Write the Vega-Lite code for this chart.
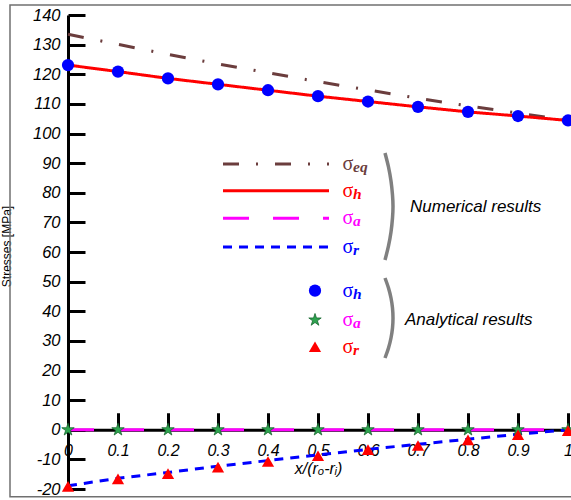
{
  "$schema": "https://vega.github.io/schema/vega-lite/v6.json",
  "width": 500,
  "height": 474,
  "autosize": {"type": "none"},
  "padding": {"left": 68, "top": 15, "right": 3, "bottom": 11},
  "background": "white",
  "config": {"view": {"stroke": null}},
  "datasets": {
    "frame": [{"x": -0.116, "x2": 1.02, "y": 143.4, "y2": -22.6}],
    "num": [
      {"s": "eq", "x": 0, "y": 133.5}, {"s": "eq", "x": 0.1, "y": 130.1}, {"s": "eq", "x": 0.2, "y": 126.7}, {"s": "eq", "x": 0.3, "y": 123.5}, {"s": "eq", "x": 0.4, "y": 120.5}, {"s": "eq", "x": 0.5, "y": 117.5}, {"s": "eq", "x": 0.6, "y": 114.7}, {"s": "eq", "x": 0.7, "y": 111.9}, {"s": "eq", "x": 0.8, "y": 109.3}, {"s": "eq", "x": 0.9, "y": 106.9}, {"s": "eq", "x": 1, "y": 104.5},
      {"s": "h", "x": 0, "y": 123.1}, {"s": "h", "x": 0.1, "y": 120.9}, {"s": "h", "x": 0.2, "y": 118.6}, {"s": "h", "x": 0.3, "y": 116.6}, {"s": "h", "x": 0.4, "y": 114.6}, {"s": "h", "x": 0.5, "y": 112.6}, {"s": "h", "x": 0.6, "y": 110.8}, {"s": "h", "x": 0.7, "y": 109.0}, {"s": "h", "x": 0.8, "y": 107.3}, {"s": "h", "x": 0.9, "y": 105.9}, {"s": "h", "x": 1, "y": 104.4},
      {"s": "a", "x": 0, "y": 0}, {"s": "a", "x": 0.1, "y": 0}, {"s": "a", "x": 0.2, "y": 0}, {"s": "a", "x": 0.3, "y": 0}, {"s": "a", "x": 0.4, "y": 0}, {"s": "a", "x": 0.5, "y": 0}, {"s": "a", "x": 0.6, "y": 0}, {"s": "a", "x": 0.7, "y": 0}, {"s": "a", "x": 0.8, "y": 0}, {"s": "a", "x": 0.9, "y": 0}, {"s": "a", "x": 1, "y": 0},
      {"s": "r", "x": 0, "y": -18.9}, {"s": "r", "x": 0.1, "y": -16.4}, {"s": "r", "x": 0.2, "y": -14.4}, {"s": "r", "x": 0.3, "y": -12.3}, {"s": "r", "x": 0.4, "y": -10.4}, {"s": "r", "x": 0.5, "y": -8.5}, {"s": "r", "x": 0.6, "y": -6.6}, {"s": "r", "x": 0.7, "y": -4.9}, {"s": "r", "x": 0.8, "y": -3.2}, {"s": "r", "x": 0.9, "y": -1.5}, {"s": "r", "x": 1, "y": 0}
    ],
    "leg": [
      {"s": "eq", "x": 0.31, "y": 89.7}, {"s": "eq", "x": 0.522, "y": 89.7},
      {"s": "h", "x": 0.31, "y": 80.69}, {"s": "h", "x": 0.522, "y": 80.69},
      {"s": "a", "x": 0.31, "y": 71.38}, {"s": "a", "x": 0.522, "y": 71.38},
      {"s": "r", "x": 0.31, "y": 61.69}, {"s": "r", "x": 0.522, "y": 61.69}
    ],
    "circ": [
      {"x": 0, "y": 123.1}, {"x": 0.1, "y": 120.9}, {"x": 0.2, "y": 118.6}, {"x": 0.3, "y": 116.6}, {"x": 0.4, "y": 114.6}, {"x": 0.5, "y": 112.6}, {"x": 0.6, "y": 110.8}, {"x": 0.7, "y": 109.0}, {"x": 0.8, "y": 107.3}, {"x": 0.9, "y": 105.9}, {"x": 1, "y": 104.4},
      {"x": 0.494, "y": 46.94}
    ],
    "star": [
      {"x": 0, "y": 0}, {"x": 0.1, "y": 0}, {"x": 0.2, "y": 0}, {"x": 0.3, "y": 0}, {"x": 0.4, "y": 0}, {"x": 0.5, "y": 0}, {"x": 0.6, "y": 0}, {"x": 0.7, "y": 0}, {"x": 0.8, "y": 0}, {"x": 0.9, "y": 0}, {"x": 1, "y": 0},
      {"x": 0.494, "y": 37.05}
    ],
    "tri": [
      {"x": 0, "y": -19.1}, {"x": 0.1, "y": -16.6}, {"x": 0.2, "y": -14.8}, {"x": 0.3, "y": -12.6}, {"x": 0.4, "y": -10.7}, {"x": 0.5, "y": -8.8}, {"x": 0.6, "y": -6.7}, {"x": 0.7, "y": -5.3}, {"x": 0.8, "y": -3.4}, {"x": 0.9, "y": -1.7}, {"x": 1, "y": -0.3},
      {"x": 0.494, "y": 28.03}
    ],
    "sig": [
      {"k": "eq", "sub": "eq", "x": 0.549, "y": 89.7},
      {"k": "h", "sub": "h", "x": 0.549, "y": 80.69},
      {"k": "a", "sub": "a", "x": 0.549, "y": 71.38},
      {"k": "r", "sub": "r", "x": 0.549, "y": 61.69},
      {"k": "ah", "sub": "h", "x": 0.549, "y": 46.94},
      {"k": "aa", "sub": "a", "x": 0.549, "y": 37.05},
      {"k": "ar", "sub": "r", "x": 0.549, "y": 28.03}
    ],
    "notes": [
      {"t": "Numerical results", "x": 0.684, "y": 75.2},
      {"t": "Analytical results", "x": 0.674, "y": 37.0}
    ],
    "brk": [
      {"b": 1, "i": 0, "x": 0.634, "y": 93.42}, {"b": 1, "i": 1, "x": 0.641, "y": 88.69}, {"b": 1, "i": 2, "x": 0.646, "y": 83.97}, {"b": 1, "i": 3, "x": 0.649, "y": 79.24}, {"b": 1, "i": 4, "x": 0.65, "y": 75.36}, {"b": 1, "i": 5, "x": 0.649, "y": 71.48}, {"b": 1, "i": 6, "x": 0.646, "y": 66.75}, {"b": 1, "i": 7, "x": 0.641, "y": 62.03}, {"b": 1, "i": 8, "x": 0.634, "y": 57.3},
      {"b": 2, "i": 0, "x": 0.634, "y": 51.22}, {"b": 2, "i": 1, "x": 0.641, "y": 47.84}, {"b": 2, "i": 2, "x": 0.646, "y": 44.47}, {"b": 2, "i": 3, "x": 0.649, "y": 41.09}, {"b": 2, "i": 4, "x": 0.65, "y": 37.72}, {"b": 2, "i": 5, "x": 0.649, "y": 34.34}, {"b": 2, "i": 6, "x": 0.646, "y": 30.97}, {"b": 2, "i": 7, "x": 0.641, "y": 27.59}, {"b": 2, "i": 8, "x": 0.634, "y": 24.22}
    ]
  },
  "layer": [
    {
      "data": {"name": "frame"},
      "mark": {"type": "rect", "fillOpacity": 0, "stroke": "#707070", "strokeWidth": 1.5, "clip": false},
      "encoding": {
        "x": {"field": "x", "type": "quantitative",
          "scale": {"domain": [0, 1], "nice": false, "zero": false},
          "axis": {
            "orient": "bottom", "offset": -59.25,
            "values": [0, 0.1, 0.2, 0.3, 0.4, 0.5, 0.6, 0.7, 0.8, 0.9, 1],
            "tickCount": 20,
            "labelExpr": "'' + datum.value",
            "labelFont": "Liberation Sans", "labelFontStyle": "italic", "labelFontSize": 16, "labelColor": "#000",
            "labelPadding": 30, "labelFlush": false, "labelOverlap": false,
            "domainColor": "#000", "domainWidth": 3, "tickColor": "#000", "tickWidth": 3, "tickSize": -17,
            "grid": false,
            "title": "x/(rₒ-rᵢ)", "titleFont": "Liberation Sans", "titleFontStyle": "italic", "titleFontWeight": "normal",
            "titleFontSize": 16, "titleColor": "#000", "titleX": 250, "titleY": 39, "titleBaseline": "middle", "titleAlign": "center"
          }
        },
        "x2": {"field": "x2"},
        "y": {"field": "y", "type": "quantitative",
          "scale": {"domain": [-20, 140], "nice": false, "zero": false},
          "axis": {
            "orient": "left",
            "values": [-20, -10, 0, 10, 20, 30, 40, 50, 60, 70, 80, 90, 100, 110, 120, 130, 140],
            "tickCount": 30,
            "labelExpr": "'' + datum.value",
            "labelFont": "Liberation Sans", "labelFontStyle": "italic", "labelFontSize": 16.5, "labelColor": "#000",
            "labelPadding": 25, "labelFlush": false, "labelOverlap": false,
            "domainColor": "#000", "domainWidth": 3, "tickColor": "#000", "tickWidth": 3, "tickSize": -17,
            "grid": false,
            "title": "Stresses [MPa]", "titleFont": "Liberation Sans", "titleFontWeight": "normal", "titleFontSize": 12,
            "titleColor": "#000", "titleX": -62, "titleY": 231, "titleAngle": 270, "titleAlign": "center", "titleBaseline": "middle"
          }
        },
        "y2": {"field": "y2"}
      }
    },
    {
      "data": {"name": "num"},
      "mark": {"type": "line", "strokeWidth": 3, "clip": false},
      "encoding": {
        "x": {"field": "x", "type": "quantitative"},
        "y": {"field": "y", "type": "quantitative"},
        "color": {"field": "s", "type": "nominal",
          "scale": {"domain": ["eq", "h", "a", "r", "ah", "aa", "ar"], "range": ["#6b3d3d", "#ff0000", "#ff00ff", "#0000ff", "#0000ff", "#ff00ff", "#ff0000"]},
          "legend": null},
        "strokeDash": {"field": "s", "type": "nominal",
          "scale": {"domain": ["eq", "h", "a", "r"], "range": [[16, 17, 2, 17], [1, 0], [26, 24], [9, 7]]},
          "legend": null}
      }
    },
    {
      "data": {"name": "leg"},
      "mark": {"type": "line", "strokeWidth": 3, "clip": false},
      "encoding": {
        "x": {"field": "x", "type": "quantitative"},
        "y": {"field": "y", "type": "quantitative"},
        "color": {"field": "s", "type": "nominal",
          "scale": {"domain": ["eq", "h", "a", "r", "ah", "aa", "ar"], "range": ["#6b3d3d", "#ff0000", "#ff00ff", "#0000ff", "#0000ff", "#ff00ff", "#ff0000"]},
          "legend": null},
        "strokeDash": {"field": "s", "type": "nominal",
          "scale": {"domain": ["eq", "h", "a", "r"], "range": [[16, 17, 2, 17], [1, 0], [26, 24], [9, 7]]},
          "legend": null}
      }
    },
    {
      "data": {"name": "brk"},
      "mark": {"type": "line", "strokeWidth": 3.5, "color": "#808080", "interpolate": "cardinal", "clip": false},
      "encoding": {
        "x": {"field": "x", "type": "quantitative"},
        "y": {"field": "y", "type": "quantitative"},
        "detail": {"field": "b", "type": "nominal"},
        "order": {"field": "i", "type": "quantitative"}
      }
    },
    {
      "data": {"name": "circ"},
      "mark": {"type": "point", "shape": "circle", "filled": true, "size": 150, "color": "#0000ff", "opacity": 1, "clip": false},
      "encoding": {
        "x": {"field": "x", "type": "quantitative"},
        "y": {"field": "y", "type": "quantitative"}
      }
    },
    {
      "data": {"name": "star"},
      "mark": {"type": "point", "shape": "M0,-1L0.2245,-0.309L0.951,-0.309L0.363,0.118L0.588,0.809L0,0.382L-0.588,0.809L-0.363,0.118L-0.951,-0.309L-0.2245,-0.309Z",
        "filled": true, "size": 170, "fill": "#2ea34f", "stroke": "#17672e", "strokeWidth": 0.8, "opacity": 1, "clip": false},
      "encoding": {
        "x": {"field": "x", "type": "quantitative"},
        "y": {"field": "y", "type": "quantitative"}
      }
    },
    {
      "data": {"name": "tri"},
      "mark": {"type": "point", "shape": "triangle-up", "filled": true, "size": 150, "color": "#ff0000", "opacity": 1, "clip": false},
      "encoding": {
        "x": {"field": "x", "type": "quantitative"},
        "y": {"field": "y", "type": "quantitative"}
      }
    },
    {
      "data": {"name": "sig"},
      "mark": {"type": "text", "text": "σ", "font": "Liberation Serif", "fontSize": 20, "align": "left", "baseline": "middle", "clip": false},
      "encoding": {
        "x": {"field": "x", "type": "quantitative"},
        "y": {"field": "y", "type": "quantitative"},
        "color": {"field": "k", "type": "nominal",
          "scale": {"domain": ["eq", "h", "a", "r", "ah", "aa", "ar"], "range": ["#6b3d3d", "#ff0000", "#ff00ff", "#0000ff", "#0000ff", "#ff00ff", "#ff0000"]},
          "legend": null}
      }
    },
    {
      "data": {"name": "sig"},
      "mark": {"type": "text", "font": "Liberation Serif", "fontStyle": "italic", "fontWeight": "bold", "fontSize": 15.5, "align": "left", "baseline": "middle", "dx": 10.5, "dy": 3, "clip": false},
      "encoding": {
        "x": {"field": "x", "type": "quantitative"},
        "y": {"field": "y", "type": "quantitative"},
        "text": {"field": "sub"},
        "color": {"field": "k", "type": "nominal",
          "scale": {"domain": ["eq", "h", "a", "r", "ah", "aa", "ar"], "range": ["#6b3d3d", "#ff0000", "#ff00ff", "#0000ff", "#0000ff", "#ff00ff", "#ff0000"]},
          "legend": null}
      }
    },
    {
      "data": {"name": "notes"},
      "mark": {"type": "text", "font": "Liberation Sans", "fontStyle": "italic", "fontSize": 17, "align": "left", "baseline": "middle", "color": "#000", "clip": false},
      "encoding": {
        "x": {"field": "x", "type": "quantitative"},
        "y": {"field": "y", "type": "quantitative"},
        "text": {"field": "t"}
      }
    }
  ]
}
